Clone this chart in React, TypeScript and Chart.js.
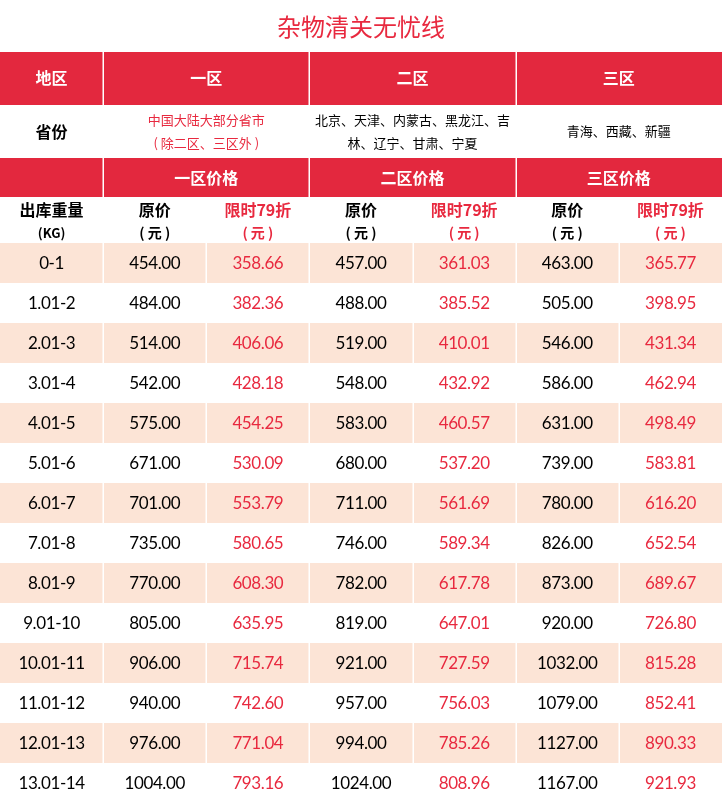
import React, { useEffect, useRef } from "react";
import { Chart, registerables } from "chart.js";

Chart.register(...registerables);

const title = "杂物清关无忧线";
const zoneHeaderLabel = "地区";
const zones = ["一区", "二区", "三区"];
const provinceLabel = "省份";
const zoneProvinces = [
  ["中国大陆大部分省市", "( 除二区、三区外 )"],
  ["北京、天津、内蒙古、黑龙江、吉", "林、辽宁、甘肃、宁夏"],
  ["青海、西藏、新疆"],
];
const priceHeaders = ["一区价格", "二区价格", "三区价格"];
const weightHeader = ["出库重量", "(KG)"];
const origHeader = ["原价", "( 元 )"];
const discHeader = ["限时79折", "( 元 )"];

const weights = [
  "0-1", "1.01-2", "2.01-3", "3.01-4", "4.01-5", "5.01-6", "6.01-7",
  "7.01-8", "8.01-9", "9.01-10", "10.01-11", "11.01-12", "12.01-13", "13.01-14",
];
const zone1Orig = [454, 484, 514, 542, 575, 671, 701, 735, 770, 805, 906, 940, 976, 1004];
const zone1Disc = [358.66, 382.36, 406.06, 428.18, 454.25, 530.09, 553.79, 580.65, 608.3, 635.95, 715.74, 742.6, 771.04, 793.16];
const zone2Orig = [457, 488, 519, 548, 583, 680, 711, 746, 782, 819, 921, 957, 994, 1024];
const zone2Disc = [361.03, 385.52, 410.01, 432.92, 460.57, 537.2, 561.69, 589.34, 617.78, 647.01, 727.59, 756.03, 785.26, 808.96];
const zone3Orig = [463, 505, 546, 586, 631, 739, 780, 826, 873, 920, 1032, 1079, 1127, 1167];
const zone3Disc = [365.77, 398.95, 431.34, 462.94, 498.49, 583.81, 616.2, 652.54, 689.67, 726.8, 815.28, 852.41, 890.33, 921.93];

// layout (in row units of the y scale)
const headerHeights = [1.3, 1.325, 1.325, 0.975, 1.15];
const NUM_COLS = 7;
const TOTAL_ROWS = 20.1;

const RED = "#e3283e";
const RED_TEXT = "#e8293f";
const PINK = "#fce4d6";
const CJK = '"Noto Sans CJK SC", sans-serif';
const NUM = 'Lato, "Noto Sans", sans-serif';

const tablePlugin = {
  id: "tablePlugin",
  afterDraw(chart: any) {
    const ctx = chart.ctx as CanvasRenderingContext2D;
    const xs = chart.scales.x;
    const ys = chart.scales.y;
    const X = (v: number) => xs.getPixelForValue(v);
    const Y = (v: number) => ys.getPixelForValue(v);
    const tops: number[] = [0];
    headerHeights.forEach((h, i) => tops.push(tops[i] + h));

    const rect = (x0: number, x1: number, y0: number, y1: number, color: string) => {
      ctx.fillStyle = color;
      ctx.fillRect(X(x0), Y(y0), X(x1) - X(x0), Y(y1) - Y(y0));
    };
    const vline = (x: number, y0: number, y1: number) => {
      ctx.strokeStyle = "#ffffff";
      ctx.lineWidth = 1.5;
      ctx.beginPath();
      ctx.moveTo(Math.round(X(x)) + 0.25, Y(y0));
      ctx.lineTo(Math.round(X(x)) + 0.25, Y(y1));
      ctx.stroke();
    };
    const text = (s: string, x: number, y: number, font: string, color: string, spacing = "0px") => {
      ctx.font = font;
      ctx.fillStyle = color;
      ctx.textAlign = "center";
      ctx.textBaseline = "middle";
      (ctx as any).letterSpacing = spacing;
      ctx.fillText(s, X(x), Y(y));
      (ctx as any).letterSpacing = "0px";
    };

    ctx.save();
    // title
    text(title, 3.5, tops[0] + headerHeights[0] / 2 + 0.01, `24px ${CJK}`, RED_TEXT);

    // row 1: zones
    const r1 = tops[1];
    rect(0, 7, r1, r1 + headerHeights[1], RED);
    [1, 3, 5].forEach((x) => vline(x, r1, r1 + headerHeights[1]));
    const r1c = r1 + headerHeights[1] / 2 - 0.02;
    text(zoneHeaderLabel, 0.5, r1c, `bold 16px ${CJK}`, "#ffffff");
    zones.forEach((z, i) => text(z, 2 + i * 2, r1c, `bold 16px ${CJK}`, "#ffffff"));

    // row 2: provinces
    const r2 = tops[2];
    const r2c = r2 + headerHeights[2] / 2;
    text(provinceLabel, 0.5, r2c, `bold 16px ${CJK}`, "#000000");
    zoneProvinces.forEach((lines, i) => {
      const color = i === 0 ? RED_TEXT : "#000000";
      if (lines.length === 1) {
        text(lines[0], 2 + i * 2, r2c, `13px ${CJK}`, color);
      } else {
        text(lines[0], 2 + i * 2, r2c - 0.275, `13px ${CJK}`, color);
        text(lines[1], 2 + i * 2, r2c + 0.3, `13px ${CJK}`, color);
      }
    });

    // row 3: price headers
    const r3 = tops[3];
    rect(0, 7, r3, r3 + headerHeights[3], RED);
    [1, 3, 5].forEach((x) => vline(x, r3, r3 + headerHeights[3]));
    const r3c = r3 + headerHeights[3] / 2;
    priceHeaders.forEach((p, i) => text(p, 2 + i * 2, r3c, `bold 16px ${CJK}`, "#ffffff"));

    // row 4: column headers
    const r4 = tops[4];
    const l1 = r4 + 0.325;
    const l2 = r4 + 0.9;
    text(weightHeader[0], 0.5, l1, `bold 16px ${CJK}`, "#000000");
    text(weightHeader[1], 0.5, l2, `bold 13px ${CJK}`, "#000000");
    for (let z = 0; z < 3; z++) {
      const xo = 1.5 + z * 2;
      const xd = 2.5 + z * 2;
      text(origHeader[0], xo, l1, `bold 16px ${CJK}`, "#000000");
      text(origHeader[1], xo, l2, `bold 14px ${CJK}`, "#000000");
      text(discHeader[0], xd, l1, `bold 16px ${CJK}`, RED_TEXT);
      text(discHeader[1], xd, l2, `bold 14px ${CJK}`, RED_TEXT);
    }

    // data rows
    const d0 = tops[5];
    const cols = [zone1Orig, zone1Disc, zone2Orig, zone2Disc, zone3Orig, zone3Disc];
    weights.forEach((w, i) => {
      const top = d0 + i;
      const c = top + 0.5;
      if (i % 2 === 0) {
        rect(0, 7, top, top + 1, PINK);
        for (let x = 1; x < NUM_COLS; x++) vline(x, top, top + 1);
      }
      text(w, 0.5, c + 0.01, `17px ${NUM}`, "#000000", "-0.4px");
      cols.forEach((arr, k) => {
        text(arr[i].toFixed(2), 1.5 + k, c + 0.01, `17px ${NUM}`, k % 2 === 1 ? RED_TEXT : "#000000", "-0.4px");
      });
    });
    ctx.restore();
  },
};

export default function App() {
  const ref = useRef<HTMLCanvasElement | null>(null);
  useEffect(() => {
    document.body.style.margin = "0";
    if (!ref.current) return;
    const chart = new Chart(ref.current, {
      type: "scatter",
      data: { datasets: [{ data: [] }] },
      options: {
        animation: false,
        responsive: false,
        devicePixelRatio: 1,
        layout: { padding: 0 },
        plugins: { legend: { display: false }, tooltip: { enabled: false }, title: { display: false } },
        scales: {
          x: { type: "linear", min: 0, max: NUM_COLS, display: false },
          y: { type: "linear", min: 0, max: TOTAL_ROWS, reverse: true, display: false },
        },
      },
      plugins: [tablePlugin],
    });
    return () => chart.destroy();
  }, []);
  return (
    <div style={{ position: "absolute", left: 0, top: 0, width: 722, height: 804, background: "#fff" }}>
      <canvas ref={ref} width={722} height={804} style={{ display: "block" }} />
    </div>
  );
}
